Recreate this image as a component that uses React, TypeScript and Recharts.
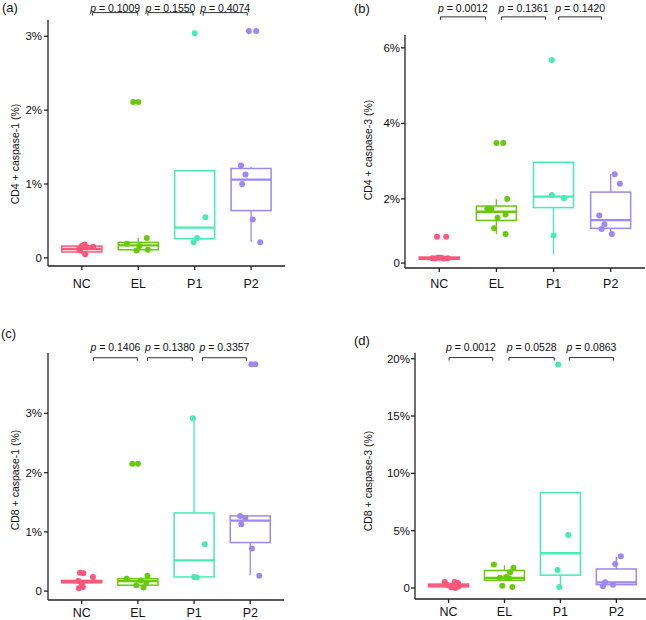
import React from 'react';
import { ComposedChart, Bar, Scatter, XAxis, YAxis, ReferenceLine } from 'recharts';

const GROUPS = ['NC', 'EL', 'P1', 'P2'];
const COLORS = ['#F9587B', '#69C90E', '#48EBB3', '#9C88F0'];

// box stats per group: [q1, median, q3, whiskerLow, whiskerHigh]
const BOX_A = [[0.08, 0.12, 0.16, 0.05, 0.18], [0.11, 0.17, 0.21, 0.09, 0.27], [0.26, 0.41, 1.18, 0.26, 1.18], [0.64, 1.06, 1.21, 0.21, 1.23]];
const BOX_B = [[0.40, 0.43, 0.46, 0.38, 0.47], [1.43, 1.66, 1.81, 1.07, 1.99], [1.77, 2.06, 2.97, 0.53, 2.97], [1.22, 1.44, 2.18, 1.07, 2.66]];
const BOX_C = [[0.14, 0.16, 0.18, 0.14, 0.18], [0.10, 0.17, 0.21, 0.06, 0.21], [0.24, 0.52, 1.32, 0.24, 2.93], [0.82, 1.19, 1.27, 0.27, 1.27]];
const BOX_D = [[0.10, 0.22, 0.34, 0.05, 0.45], [0.68, 0.88, 1.53, 0.68, 1.97], [1.12, 3.03, 8.32, 0.15, 8.32], [0.29, 0.49, 1.66, 0.29, 2.71]];

// jittered points per group: [x offset, value]
const PTS_A = [
  [[-0.05, 0.12], [0.05, 0.18], [0.2, 0.15], [0.06, 0.05], [-0.03, 0.1], [0.09, 0.14], [0.0, 0.16]],
  [[-0.09, 2.11], [0.0, 2.11], [0.15, 0.27], [-0.2, 0.19], [0.02, 0.16], [-0.03, 0.1], [0.17, 0.11]],
  [[0.0, 3.04], [0.19, 0.55], [0.04, 0.27], [-0.02, 0.21]],
  [[-0.04, 3.07], [0.09, 3.07], [-0.18, 1.25], [-0.1, 1.13], [-0.16, 1.0], [0.03, 0.52], [0.16, 0.21]],
];
const PTS_B = [
  [[-0.04, 1.0], [0.12, 1.0], [-0.12, 0.43], [-0.02, 0.45], [0.03, 0.44], [0.08, 0.42], [0.15, 0.43], [-0.07, 0.42]],
  [[0.0, 3.48], [0.12, 3.48], [0.19, 2.0], [-0.16, 1.74], [-0.09, 1.74], [0.02, 1.5], [0.16, 1.59], [-0.04, 1.22], [0.16, 1.07]],
  [[-0.03, 5.68], [-0.03, 2.1], [0.18, 2.02], [0.0, 1.03]],
  [[0.07, 2.65], [0.16, 2.4], [-0.2, 1.56], [-0.11, 1.33], [-0.16, 1.2], [0.02, 1.07]],
];
const PTS_C = [
  [[-0.03, 0.31], [0.03, 0.3], [0.2, 0.24], [-0.06, 0.17], [0.0, 0.12], [0.02, 0.07], [-0.05, 0.05]],
  [[-0.1, 2.15], [0.0, 2.15], [-0.2, 0.21], [-0.03, 0.1], [0.1, 0.06], [0.17, 0.26], [0.05, 0.18], [0.15, 0.14]],
  [[-0.02, 2.92], [0.19, 0.79], [0.0, 0.24], [0.05, 0.23]],
  [[0.02, 3.83], [0.09, 3.83], [-0.18, 1.27], [-0.09, 1.24], [-0.16, 1.13], [0.03, 0.72], [0.16, 0.26]],
];
const PTS_D = [
  [[-0.07, 0.53], [0.11, 0.53], [0.17, 0.44], [0.05, 0.06], [0.12, 0.0], [0.02, 0.2], [0.18, 0.15], [-0.04, 0.3]],
  [[-0.19, 2.06], [0.16, 1.76], [0.1, 1.38], [-0.04, 0.2], [0.14, 0.09], [0.03, 0.95], [-0.08, 0.9], [0.08, 0.85]],
  [[-0.04, 19.5], [0.14, 4.62], [-0.05, 1.56], [-0.02, 0.09]],
  [[0.08, 2.77], [-0.02, 2.1], [-0.24, 0.15], [-0.06, 0.29], [-0.2, 0.5]],
];

// p-value brackets: [x start, x end, y, p]
const PV_A = [[1.19, 1.99, 3.32, '0.1009'], [2.17, 2.97, 3.32, '0.1550'], [3.15, 3.93, 3.32, '0.4074']];
const PV_B = [[1.02, 1.81, 6.82, '0.0012'], [2.09, 2.86, 6.82, '0.1361'], [3.09, 3.84, 6.82, '0.1420']];
const PV_C = [[1.21, 1.99, 3.94, '0.1406'], [2.17, 2.97, 3.94, '0.1380'], [3.15, 3.93, 3.94, '0.3357']];
const PV_D = [[1.01, 1.79, 20.1, '0.0012'], [2.08, 2.89, 20.1, '0.0528'], [3.16, 3.95, 20.1, '0.0863']];

const TICKS_A = [0, 1, 2, 3];
const TICKS_B = [0.3, 2, 4, 6];
const TICKS_C = [0, 1, 2, 3];
const TICKS_D = [0, 5, 10, 15, 20];

const PANELS = [
  {
    tag: '(a)', title: 'CD4 + caspase-1 (%)', box: BOX_A, pts: PTS_A, pv: PV_A, ticks: TICKS_A,
    left: 0, top: 0, yDomain: [-0.11, 3.22], xDomain: [0.4, 4.6],
    margin: { top: 20, right: 38, left: 0, bottom: 0 }, yWidth: 48, xHeight: 44, xTickMargin: 9, yTickMargin: 2,
    titlePos: [15, 154], tagPos: [2, 0], pGap: 1,
  },
  {
    tag: '(b)', title: 'CD4 + caspase-3 (%)', box: BOX_B, pts: PTS_B, pv: PV_B, ticks: TICKS_B,
    left: 323, top: 0, yDomain: [0.17, 6.34], xDomain: [0.4, 4.6],
    margin: { top: 35, right: 1, left: 0, bottom: 0 }, yWidth: 82, xHeight: 42, xTickMargin: 7, yTickMargin: 1,
    titlePos: [45, 150], tagPos: [354, 1], pGap: 5,
  },
  {
    tag: '(c)', title: 'CD8 + caspase-1 (%)', box: BOX_C, pts: PTS_C, pv: PV_C, ticks: TICKS_C,
    left: 0, top: 310, yDomain: [-0.15, 4.02], xDomain: [0.4, 4.6],
    margin: { top: 43, right: 39, left: 0, bottom: 0 }, yWidth: 48, xHeight: 20, xTickMargin: 4, yTickMargin: 2,
    titlePos: [15, 170], tagPos: [1, 326], pGap: 7,
  },
  {
    tag: '(d)', title: 'CD8 + caspase-3 (%)', box: BOX_D, pts: PTS_D, pv: PV_D, ticks: TICKS_D,
    left: 323, top: 310, yDomain: [-0.96, 20.5], xDomain: [0.4, 4.53],
    margin: { top: 43, right: 0, left: 0, bottom: 0 }, yWidth: 92, xHeight: 21, xTickMargin: 4, yTickMargin: 1,
    titlePos: [45, 171], tagPos: [354, 333], pGap: 7,
  },
];

const AXIS = { stroke: '#222', strokeWidth: 1.3 };
const BOX_W = 40;

function BoxShape(props: any) {
  const { x, y, width, height } = props;
  const d = props.payload || props;
  if (!d || !d.range || height == null) return null;
  const top = height >= 0 ? y : y + height;
  const h = Math.abs(height);
  const [lo, hi] = d.range;
  const k = h / (hi - lo);
  const py = (v: number) => top + (hi - v) * k;
  const cx = x + (width || 0) / 2;
  const w = BOX_W;
  return (
    <g>
      <line x1={cx} x2={cx} y1={py(d.whi)} y2={py(d.q3)} stroke={d.color} strokeWidth={1.3} />
      <line x1={cx} x2={cx} y1={py(d.q1)} y2={py(d.wlo)} stroke={d.color} strokeWidth={1.3} />
      <rect x={cx - w / 2} y={py(d.q3)} width={w} height={Math.max(py(d.q1) - py(d.q3), 0.5)} fill="#fff" stroke={d.color} strokeWidth={1.5} />
      <line x1={cx - w / 2} x2={cx + w / 2} y1={py(d.med)} y2={py(d.med)} stroke={d.color} strokeWidth={2.3} />
    </g>
  );
}

function Dot(props: any) {
  const { cx, cy, payload } = props;
  if (cx == null || cy == null) return null;
  return <circle cx={cx} cy={cy} r={3} fill={payload.color} />;
}

function Bracket(props: any) {
  const { x1, y1, x2, y2 } = props;
  if (x1 == null) return null;
  const yy = Math.min(y1, y2);
  return <path d={`M${x1},${yy + 3}V${yy}H${x2}V${yy + 3}`} fill="none" stroke="#333" strokeWidth={1} />;
}

function pLabel(p: string, gap: number) {
  return (props: any) => {
    const vb = props.viewBox || {};
    let cx: number, cy: number;
    if (vb.x1 != null) {
      cx = (vb.x1 + vb.x2) / 2;
      cy = Math.min(vb.y1, vb.y2);
    } else {
      cx = vb.x + (vb.width || 0) / 2;
      cy = vb.y;
    }
    return (
      <text x={cx} y={cy - gap} textAnchor="middle" fontSize={10.5} fill="#111">
        <tspan fontStyle="italic">p</tspan>
        {' = ' + p}
      </text>
    );
  };
}

function Panel({ cfg }: { cfg: any }) {
  const boxes = cfg.box.map((b: number[], i: number) => ({
    x: i + 1,
    range: [Math.min(b[0], b[3]), Math.max(b[2], b[4])],
    q1: b[0], med: b[1], q3: b[2], wlo: b[3], whi: b[4],
    color: COLORS[i],
  }));
  const pts = cfg.pts.flatMap((g: number[][], i: number) =>
    g.map(([dx, v]) => ({ x: i + 1 + dx, y: v, color: COLORS[i] })),
  );
  const [tx, ty] = cfg.titlePos;
  return (
    <>
      <div style={{ position: 'absolute', left: cfg.left, top: cfg.top }}>
        <ComposedChart width={323} height={310} data={boxes} margin={cfg.margin}>
          <XAxis
            type="number"
            dataKey="x"
            domain={cfg.xDomain}
            ticks={[1, 2, 3, 4]}
            interval={0}
            allowDataOverflow
            tickFormatter={(v: number) => GROUPS[v - 1]}
            height={cfg.xHeight}
            tickSize={4}
            tickMargin={cfg.xTickMargin}
            axisLine={AXIS}
            tickLine={AXIS}
            tick={{ fill: '#111', fontSize: 12.5 }}
          />
          <YAxis
            type="number"
            domain={cfg.yDomain}
            ticks={cfg.ticks}
            interval={0}
            allowDataOverflow
            tickFormatter={(v: number) => (v < 0.5 ? '0' : `${v}%`)}
            width={cfg.yWidth}
            tickSize={4}
            tickMargin={cfg.yTickMargin}
            axisLine={AXIS}
            tickLine={AXIS}
            tick={{ fill: '#111', fontSize: 11.5 }}
            label={() => (
              <text
                transform={`translate(${tx},${ty}) rotate(-90)`}
                textAnchor="middle"
                dominantBaseline="central"
                fontSize={10.5}
                fill="#111"
              >
                {cfg.title}
              </text>
            )}
          />
          <Bar dataKey="range" barSize={BOX_W} shape={BoxShape} isAnimationActive={false} />
          <Scatter data={pts} dataKey="y" shape={Dot} isAnimationActive={false} />
          {cfg.pv.map((b: any[], i: number) => (
            <ReferenceLine
              key={i}
              segment={[{ x: b[0], y: b[2] }, { x: b[1], y: b[2] }]}
              ifOverflow="visible"
              shape={Bracket}
              label={pLabel(b[3], cfg.pGap)}
            />
          ))}
        </ComposedChart>
      </div>
      <span style={{ position: 'absolute', left: cfg.tagPos[0], top: cfg.tagPos[1], fontSize: 13, lineHeight: '16px', color: '#111' }}>
        {cfg.tag}
      </span>
    </>
  );
}

export default function App() {
  return (
    <div
      style={{
        position: 'absolute', left: 0, top: 0, width: 646, height: 620, background: '#fff', overflow: 'hidden',
        fontFamily: '"Liberation Sans", Arial, Helvetica, sans-serif',
      }}
    >
      {PANELS.map((cfg) => (
        <Panel key={cfg.tag} cfg={cfg} />
      ))}
    </div>
  );
}
